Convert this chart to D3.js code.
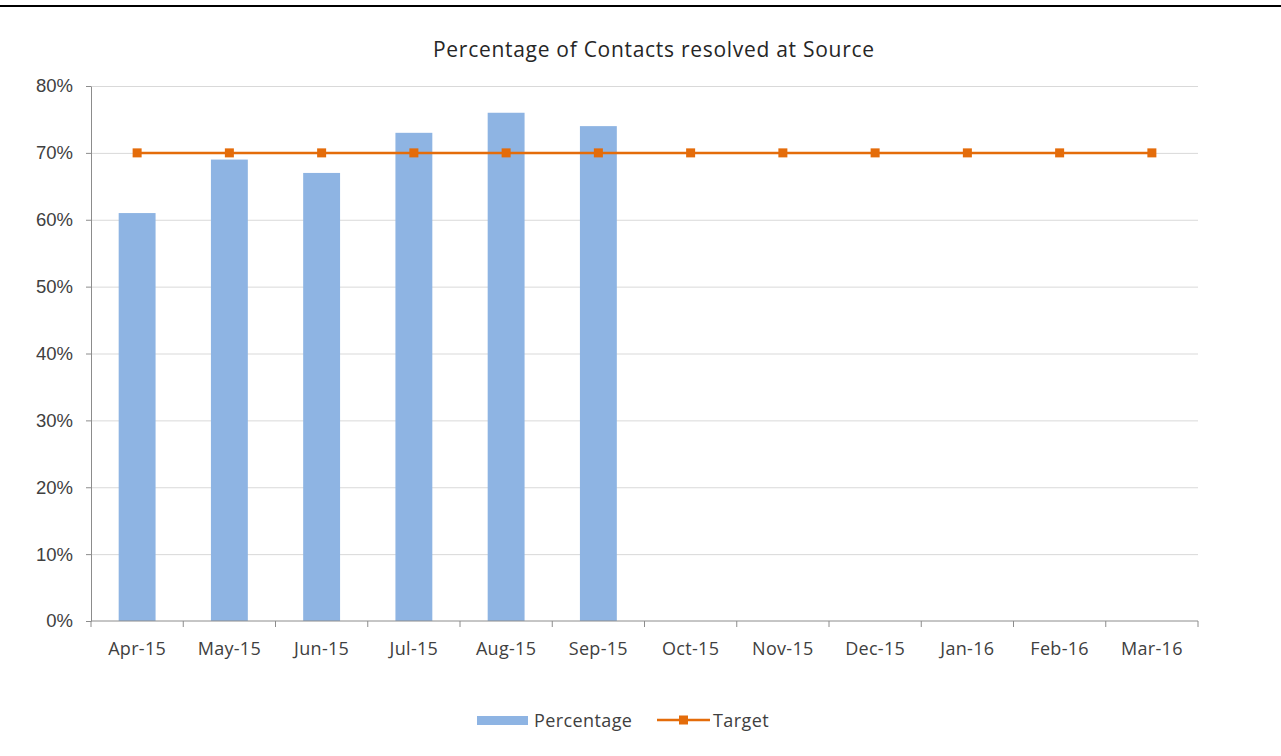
<!DOCTYPE html>
<html>
<head>
<style>
  body { margin: 0; background: #fff; }
  .grid line { stroke: #d9d9d9; }
  .grid .domain { display: none; }
  .axis path, .axis line { stroke: #8c8c8c; }
</style>
</head>
<body>
<div id="container"></div>
<script src="https://d3js.org/d3.v7.min.js"></script>
<script>
var months = ["Apr-15", "May-15", "Jun-15", "Jul-15", "Aug-15", "Sep-15",
              "Oct-15", "Nov-15", "Dec-15", "Jan-16", "Feb-16", "Mar-16"];
var percentage = [0.61, 0.69, 0.67, 0.73, 0.76, 0.74];
var target = [0.70, 0.70, 0.70, 0.70, 0.70, 0.70, 0.70, 0.70, 0.70, 0.70, 0.70, 0.70];
var yTicks = [0, 0.1, 0.2, 0.3, 0.4, 0.5, 0.6, 0.7, 0.8];

var W = 1281, H = 756;
var margin = {top: 86, right: 83, bottom: 135, left: 91};
var width = W - margin.left - margin.right,
    height = H - margin.top - margin.bottom;

var svg = d3.select("#container").append("svg")
    .attr("width", W).attr("height", H);

// top border
svg.append("rect").attr("x", 0).attr("y", 5).attr("width", W).attr("height", 2).attr("fill", "#000");

svg.append("text")
    .attr("x", 433).attr("y", 57)
    .attr("font-family", "'Open Sans', sans-serif")
    .attr("font-size", 21)
    .attr("fill", "#262626")
    .attr("textLength", 441)
    .attr("lengthAdjust", "spacing")
    .text("Percentage of Contacts resolved at Source");

var g = svg.append("g").attr("transform", "translate(" + margin.left + "," + margin.top + ")");

var x = d3.scaleBand().domain(months).range([0, width]);
var y = d3.scaleLinear().domain([0, 0.8]).range([height, 0]);

g.append("g").attr("class", "grid")
    .call(d3.axisLeft(y).tickValues(yTicks.slice(1)).tickSize(-width).tickFormat(""));

var barW = x.bandwidth() / 2.5;
g.selectAll(".bar").data(percentage).enter().append("rect")
    .attr("x", function(d, i) { return x(months[i]) + (x.bandwidth() - barW) / 2; })
    .attr("y", function(d) { return y(d); })
    .attr("width", barW)
    .attr("height", function(d) { return height - y(d); })
    .attr("fill", "#8eb4e3");

// y axis
var ya = g.append("g").attr("class", "axis")
    .call(d3.axisLeft(y).tickValues(yTicks).tickSize(5).tickSizeOuter(0).tickFormat(d3.format(".0%")));
ya.selectAll("text")
    .attr("x", -18)
    .attr("font-family", "'Liberation Sans', Arial, sans-serif")
    .attr("font-size", 18.5).attr("fill", "#404040");

// x axis with ticks at band edges
var xa = g.append("g").attr("class", "axis")
    .attr("transform", "translate(0," + height + ")");
xa.append("line").attr("x1", 0).attr("x2", width).attr("y1", 0).attr("y2", 0);
xa.selectAll(".tk").data(d3.range(months.length + 1)).enter().append("line")
    .attr("x1", function(i) { return i * x.step(); })
    .attr("x2", function(i) { return i * x.step(); })
    .attr("y1", 0).attr("y2", 6);
xa.selectAll(".lbl").data(months).enter().append("text")
    .attr("x", function(d) { return x(d) + x.bandwidth() / 2; })
    .attr("y", 34)
    .attr("text-anchor", "middle")
    .attr("font-family", "'Open Sans', sans-serif")
    .attr("font-size", 18).attr("letter-spacing", "0.3")
    .attr("fill", "#404040")
    .text(function(d) { return d; });

// target line
var line = d3.line()
    .x(function(d, i) { return x(months[i]) + x.bandwidth() / 2; })
    .y(function(d) { return y(d); });
g.append("path").datum(target)
    .attr("d", line)
    .attr("fill", "none").attr("stroke", "#e46c0a").attr("stroke-width", 2.5);
g.selectAll(".mk").data(target).enter().append("rect")
    .attr("x", function(d, i) { return x(months[i]) + x.bandwidth() / 2 - 4.5; })
    .attr("y", function(d) { return y(d) - 4.5; })
    .attr("width", 9).attr("height", 9)
    .attr("fill", "#e46c0a");

// legend
var lg = svg.append("g").attr("font-family", "'Open Sans', sans-serif")
    .attr("font-size", 18).attr("fill", "#404040");
lg.append("rect").attr("x", 477).attr("y", 716).attr("width", 51).attr("height", 9).attr("fill", "#8eb4e3");
lg.append("text").attr("x", 534).attr("y", 727).attr("letter-spacing", "0.4").text("Percentage");
lg.append("line").attr("x1", 657).attr("x2", 710).attr("y1", 720).attr("y2", 720)
    .attr("stroke", "#e46c0a").attr("stroke-width", 2.5);
lg.append("rect").attr("x", 679).attr("y", 715.5).attr("width", 9).attr("height", 9).attr("fill", "#e46c0a");
lg.append("text").attr("x", 713).attr("y", 727).attr("letter-spacing", "0.4").text("Target");
</script>
</body>
</html>
